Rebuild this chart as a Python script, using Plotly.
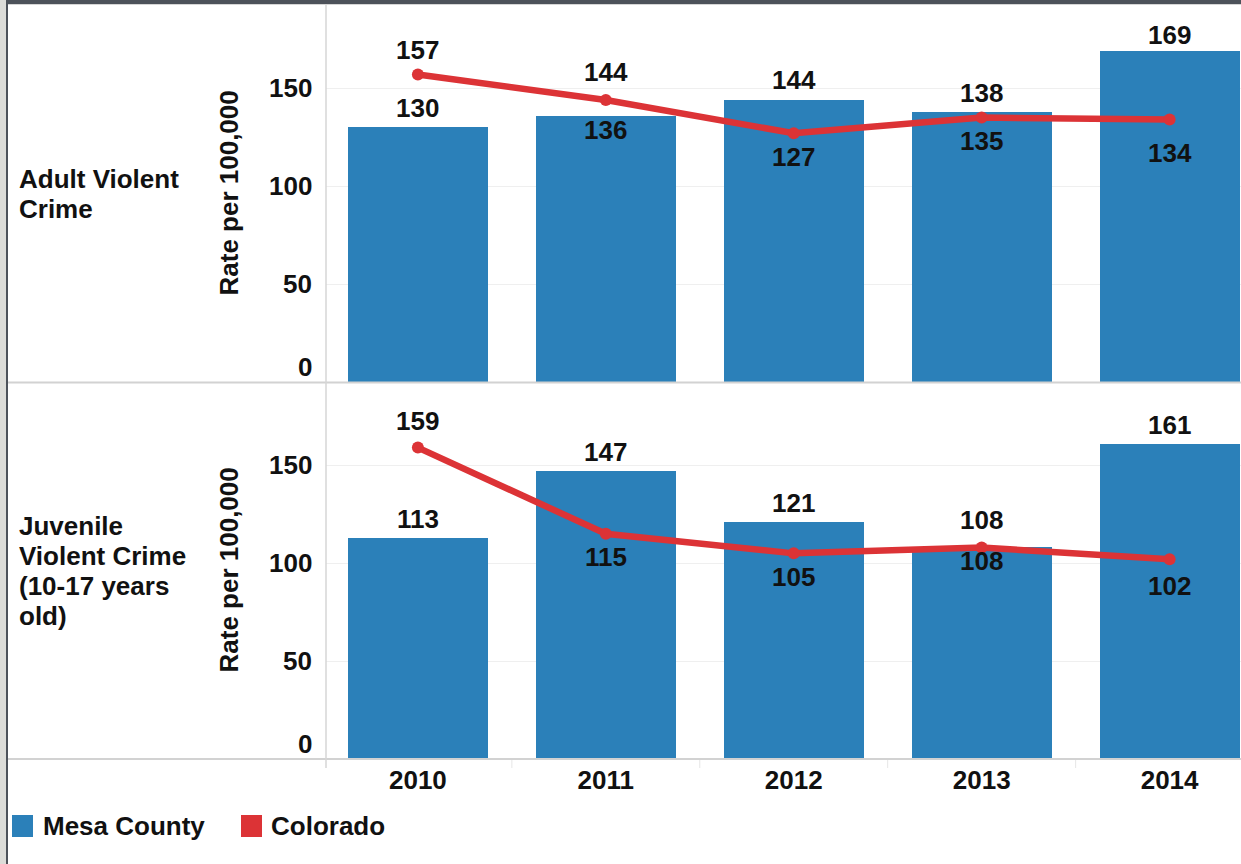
import plotly.graph_objects as go
from plotly.subplots import make_subplots

# ---- data -------------------------------------------------------------
years = ["2010", "2011", "2012", "2013", "2014"]
adult_mesa = [130, 136, 144, 138, 169]
adult_colorado = [157, 144, 127, 135, 134]
juvenile_mesa = [113, 147, 121, 108, 161]
juvenile_colorado = [159, 115, 105, 108, 102]
y_ticks = [0, 50, 100, 150]
row_titles = [["Adult Violent", "Crime"],
              ["Juvenile", "Violent Crime", "(10-17 years", "old)"]]
axis_title = "Rate per 100,000"
series_names = ["Mesa County", "Colorado"]

# ---- styling ----------------------------------------------------------
W, H = 1241, 864
ML, MR, MT, MB = 326, 0, 5, 105
PW, PH = W - ML - MR, H - MT - MB
BLUE = "#2b80b9"
RED = "#dc3336"
TXT = "#111111"
FONT = "Liberation Sans, Arial, sans-serif"
FS = 26
LINE_GAP = 30
Y_MAX = 192.5

# vertical label nudges in px (positive = up) so the value labels stay clear of each other
label_nudge = {
    ("adult", "bar"): [19, -14, 20, 19, 16],
    ("adult", "line"): [25, 28, -24, -23, -33],
    ("juv", "bar"): [19, 19, 19, 27, 19],
    ("juv", "line"): [27, -23, -24, -14, -27],
}


def fx(px):
    return (px - ML) / PW


def fy(py):
    return (H - MB - py) / PH


def bold(size=FS):
    return dict(family=FONT, size=size, color=TXT, weight="bold")


fig = make_subplots(rows=2, cols=1, shared_xaxes=True, vertical_spacing=0)

panels = [
    ("adult", adult_mesa, adult_colorado, 1, "y", [0.5, 1.0]),
    ("juv", juvenile_mesa, juvenile_colorado, 2, "y2", [0.0, 0.5]),
]

annotations = []
for key, mesa, colo, row, yref, dom in panels:
    xref = "x" if row == 1 else "x2"
    fig.add_trace(go.Bar(x=years, y=mesa, marker=dict(color=BLUE, line=dict(width=0)),
                         width=0.745, showlegend=False, hoverinfo="x+y"), row=row, col=1)
    fig.add_trace(go.Scatter(x=years, y=colo, mode="lines+markers",
                             line=dict(color=RED, width=6.5),
                             marker=dict(color=RED, size=12),
                             showlegend=False, hoverinfo="x+y"), row=row, col=1)
    for vals, kind in ((mesa, "bar"), (colo, "line")):
        for i, v in enumerate(vals):
            annotations.append(dict(
                x=i, y=v, xref=xref, yref=yref,
                text=str(v), showarrow=False, xanchor="center", yanchor="middle",
                yshift=label_nudge[(key, kind)][i], font=bold()))
    # y tick labels
    for t in y_ticks:
        annotations.append(dict(
            x=fx(314), y=t, xref="paper", yref=yref, text=str(t), showarrow=False,
            xanchor="right", yanchor="middle", yshift=15 if t == 0 else 0, font=bold()))
    mid = (dom[0] + dom[1]) / 2
    annotations.append(dict(
        x=fx(228), y=mid, xref="paper", yref="paper", text=axis_title, showarrow=False,
        textangle=-90, xanchor="center", yanchor="middle", font=bold()))
    lines = row_titles[row - 1]
    for j, ln in enumerate(lines):
        annotations.append(dict(
            x=fx(17), y=mid, xref="paper", yref="paper", text=ln,
            showarrow=False, xanchor="left", yanchor="middle", align="left",
            yshift=((len(lines) - 1) / 2 - j) * LINE_GAP, font=bold()))

# legend drawn as swatches + labels
legend_items = [(series_names[0], BLUE, 12, 41), (series_names[1], RED, 241, 269)]
shapes = []
for name, col, sx, tx in legend_items:
    shapes.append(dict(type="rect", xref="paper", yref="paper",
                       x0=fx(sx), x1=fx(sx + 21), y0=fy(837), y1=fy(815),
                       fillcolor=col, line=dict(width=0)))
    annotations.append(dict(x=fx(tx), y=fy(826), xref="paper", yref="paper", text=name,
                            showarrow=False, xanchor="left", yanchor="middle", font=bold()))

# frame: window borders, panel separators, header divider
shapes += [
    dict(type="rect", xref="paper", yref="paper", x0=fx(0), x1=fx(6), y0=fy(H), y1=fy(0),
         fillcolor="#dcdcd8", line=dict(width=0), layer="above"),
    dict(type="rect", xref="paper", yref="paper", x0=fx(6), x1=fx(8), y0=fy(H), y1=fy(0),
         fillcolor="#4d525a", line=dict(width=0), layer="above"),
    dict(type="rect", xref="paper", yref="paper", x0=fx(6), x1=fx(W), y0=fy(4), y1=fy(0),
         fillcolor="#4d525a", line=dict(width=0), layer="above"),
    dict(type="line", xref="paper", yref="paper", x0=fx(8), x1=fx(W), y0=fy(4.5), y1=fy(4.5),
         line=dict(color="#d6d6d6", width=1), layer="above"),
    dict(type="line", xref="paper", yref="paper", x0=fx(8), x1=fx(W), y0=fy(382.5), y1=fy(382.5),
         line=dict(color="#d2d2d2", width=2), layer="above"),
    dict(type="line", xref="paper", yref="paper", x0=fx(8), x1=fx(W), y0=fy(759), y1=fy(759),
         line=dict(color="#d2d2d2", width=2), layer="above"),
    dict(type="line", xref="paper", yref="paper", x0=fx(326), x1=fx(326), y0=fy(5), y1=fy(768),
         line=dict(color="#d6d6d6", width=1.5), layer="above"),
]
for b in [0.5, 1.5, 2.5, 3.5]:
    shapes.append(dict(type="line", xref="x2", yref="paper", x0=b, x1=b, y0=fy(760), y1=fy(768),
                       line=dict(color="#e6e6e6", width=1)))

fig.update_yaxes(range=[0, Y_MAX], tickvals=y_ticks, showticklabels=False, showgrid=True,
                 gridcolor="#efefef", gridwidth=1, zeroline=False, showline=False,
                 fixedrange=True)
fig.update_layout(yaxis=dict(domain=[0.5, 1.0]), yaxis2=dict(domain=[0.0, 0.5]))
fig.update_xaxes(type="category", range=[-0.489, 4.38], showgrid=False, zeroline=False,
                 showline=False, ticks="", fixedrange=True)
fig.update_xaxes(showticklabels=False, row=1, col=1)
fig.update_xaxes(showticklabels=True, tickfont=bold(), ticklabelstandoff=3, row=2, col=1)

fig.update_layout(
    width=W, height=H,
    margin=dict(l=ML, r=MR, t=MT, b=MB, autoexpand=False),
    paper_bgcolor="white", plot_bgcolor="white",
    font=dict(family=FONT, size=FS, color=TXT),
    showlegend=False, bargap=0,
    annotations=annotations, shapes=shapes,
)

fig.write_html("out.html", config={"displayModeBar": False})
